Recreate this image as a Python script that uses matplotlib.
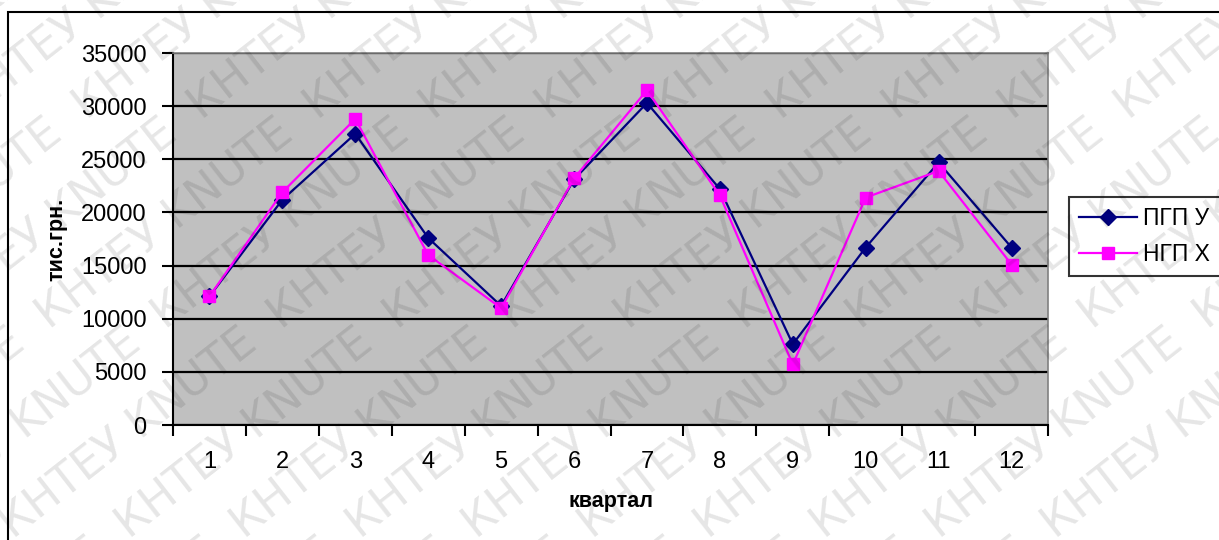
import matplotlib
matplotlib.use("Agg")
import matplotlib.pyplot as plt
from matplotlib.patches import Rectangle
from matplotlib.ticker import FixedLocator, MultipleLocator

plt.rcParams['font.family'] = ['Liberation Sans', 'DejaVu Sans']

quarters = [1, 2, 3, 4, 5, 6, 7, 8, 9, 10, 11, 12]
pgp_y = [12100, 21200, 27400, 17600, 11200, 23100, 30300, 22200, 7600, 16700, 24700, 16700]
ngp_x = [12100, 21900, 28800, 16000, 11000, 23200, 31500, 21600, 5700, 21400, 23900, 15100]
series_names = ["ПГП У", "НГП Х"]
y_label = "тис.грн."
x_label = "квартал"
watermark = "КНТЕУ KNUTE"

W, H = 1219, 540
fig = plt.figure(figsize=(W / 100, H / 100), dpi=100)
fig.patch.set_facecolor("white")

# outer chart frame
fig.patches.append(Rectangle((8 / W, -0.05), 1.2, 1 - 12 / H + 0.05,
                             transform=fig.transFigure, fill=False,
                             edgecolor="black", linewidth=1.5, zorder=0))

ax = fig.add_axes([173 / W, 1 - 425 / H, (1048 - 173) / W, (425 - 53) / H])
ax.set_facecolor("#C0C0C0")

ax.plot(quarters, pgp_y, color="#000080", marker="D", markersize=8,
        linewidth=1.6, label=series_names[0], zorder=3)
ax.plot(quarters, ngp_x, color="#FF00FF", marker="s", markersize=8.5,
        linewidth=1.6, label=series_names[1], zorder=3)

ax.set_xlim(0.5, 12.5)
ax.set_ylim(0, 35000)
ax.yaxis.set_major_locator(MultipleLocator(5000))
ax.set_xticks(quarters)
ax.set_xticklabels([str(q) for q in quarters])
ax.xaxis.set_minor_locator(FixedLocator([q + 0.5 for q in range(0, 13)]))
ax.tick_params(axis="x", which="major", length=0, labelsize=17, pad=19)
ax.tick_params(axis="x", which="minor", length=8, width=1.5, direction="out")
ax.tick_params(axis="y", length=8, width=1.5, direction="out", labelsize=17, pad=11)

ax.grid(axis="y", color="black", linewidth=1.6)
ax.set_axisbelow(True)
for s in ("left", "bottom"):
    ax.spines[s].set_color("black")
    ax.spines[s].set_linewidth(1.5)
for s in ("right", "top"):
    ax.spines[s].set_color("#808080")
    ax.spines[s].set_linewidth(1.2)

ax.set_ylabel(y_label, fontsize=15.5, fontweight="bold", labelpad=10)
ax.set_xlabel(x_label, fontsize=15.5, fontweight="bold", labelpad=13)

leg = fig.legend(loc="upper left", bbox_to_anchor=(1069 / W, 1 - 197 / H),
                 borderaxespad=0, fontsize=16.5, frameon=True, fancybox=False,
                 edgecolor="black", handlelength=2.5, handletextpad=0.3,
                 labelspacing=0.55, borderpad=0.45)
leg.get_frame().set_linewidth(1.5)

# faint diagonal watermark across the whole figure
row = "  ".join([watermark] * 7)
for i in range(-8, 11):
    fig.text(-0.3 + i * 0.095, -0.4, row, rotation=38, fontsize=32,
             color="black", alpha=0.1, family="DejaVu Sans",
             ha="left", va="bottom", rotation_mode="anchor", zorder=10)

fig.savefig("out.png", dpi=100)
